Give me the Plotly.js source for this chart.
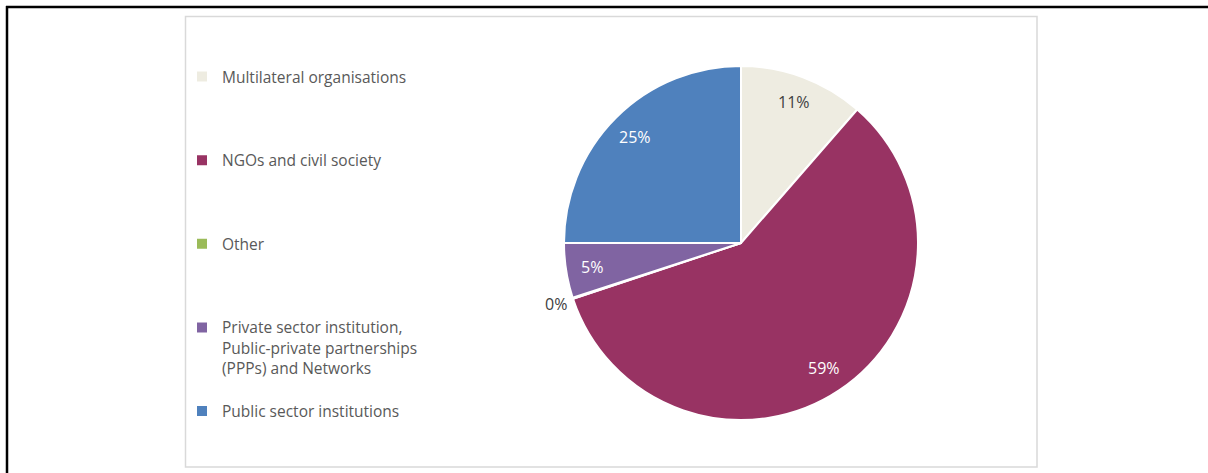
<!DOCTYPE html>
<html>
<head>
<meta charset="utf-8">
<script src="https://cdn.plot.ly/plotly-3.0.1.min.js"></script>
<style>html,body{margin:0;padding:0;background:#fff;}#chart{width:1208px;height:473px;}</style>
</head>
<body>
<div id="chart"></div>
<script>
const categories = [
  "Multilateral organisations",
  "NGOs and civil society",
  "Other",
  "Private sector institution,<br>Public-private partnerships<br>(PPPs) and Networks",
  "Public sector institutions"
];
const shares = [11.4, 58.5, 0.1, 5.0, 25.0];
const sliceColors = ["#EEECE1", "#983363", "#9BBB59", "#8064A2", "#4F81BD"];
const labelColors = ["#404040", "#ffffff", "#404040", "#ffffff", "#ffffff"];

// pad legend entries (all but the last) to four lines so entries are spread like the original
const legendLabels = categories.map((c, idx) => {
  if (idx === categories.length - 1) return c;
  const n = c.split("<br>").length;
  let s = c;
  for (let i = n; i < 4; i++) s += "<br>&nbsp;";
  return s;
});

const W = 1208, H = 473;
const cx = 741, cy = 243, r = 177;
const FONT = "Open Sans, Lato, sans-serif";

const trace = {
  type: "pie",
  labels: legendLabels,
  values: shares,
  sort: false,
  direction: "clockwise",
  rotation: 0,
  marker: {colors: sliceColors, line: {color: "#ffffff", width: 2}},
  textinfo: "none",
  domain: {x: [(cx - r) / W, (cx + r) / W], y: [(H - cy - r) / H, (H - cy + r) / H]},
  hoverinfo: "label+percent"
};

// data labels placed along each slice's mid-angle (derived from the values)
const total = shares.reduce((a, b) => a + b, 0);
let cum = 0;
const annotations = shares.map((v, i) => {
  const frac = v / total;
  const mid = (cum + frac / 2) * 2 * Math.PI;
  cum += frac;
  const outside = frac < 0.02;
  const rr = outside ? 1.1 * r : 0.85 * r;
  const px = cx + rr * Math.sin(mid);
  const py = cy - rr * Math.cos(mid);
  return {
    xref: "paper", yref: "paper", x: px / W, y: 1 - py / H,
    xanchor: "center", yanchor: "middle", showarrow: false,
    text: Math.round(frac * 100) + "%",
    font: {family: FONT, size: 16, color: outside ? "#404040" : labelColors[i]}
  };
});

const layout = {
  width: W, height: H,
  margin: {l: 0, r: 0, t: 0, b: 0, autoexpand: false},
  paper_bgcolor: "#ffffff",
  showlegend: true,
  legend: {
    x: 182 / W, xanchor: "left",
    y: 1 - 60 / H, yanchor: "top",
    valign: "top",
    font: {family: FONT, size: 15.5, color: "#595959"},
    bgcolor: "rgba(0,0,0,0)",
    itemclick: false
  },
  annotations: annotations,
  shapes: [
    {type: "rect", xref: "paper", yref: "paper", x0: 185.5 / W, x1: 1037 / W, y0: 1 - 467 / H, y1: 1 - 16.5 / H,
     line: {color: "#D9D9D9", width: 1.5}, fillcolor: "rgba(0,0,0,0)"},
    {type: "line", xref: "paper", yref: "paper", x0: 6 / W, x1: 1, y0: 1 - 7 / H, y1: 1 - 7 / H,
     line: {color: "#000000", width: 2.5}},
    {type: "line", xref: "paper", yref: "paper", x0: 7 / W, x1: 7 / W, y0: 0, y1: 1 - 6 / H,
     line: {color: "#000000", width: 2.5}}
  ]
};

Plotly.newPlot("chart", [trace], layout, {displayModeBar: false, staticPlot: true});
</script>
</body>
</html>
